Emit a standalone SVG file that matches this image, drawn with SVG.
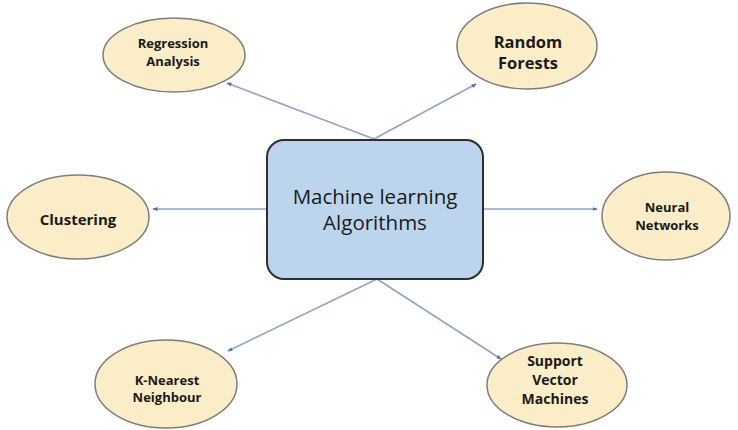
<svg xmlns="http://www.w3.org/2000/svg" width="738" height="430" viewBox="0 0 738 430">
<style>
.leaf ellipse{fill:#FBEDC8;stroke:#7d7d7d;stroke-width:1.5}
.leaf text{font-family:"Open Sans","Liberation Sans",sans-serif;font-weight:bold;fill:#1a1a1a;text-anchor:middle}
.conn line{stroke:#8FA5C2;stroke-width:1.6;marker-end:url(#ah)}
.hub rect{fill:#BDD5EC;stroke:#2e2e2e;stroke-width:2}
.hub text{font-family:"Open Sans","Liberation Sans",sans-serif;font-size:20.5px;fill:#1a1a1a;text-anchor:middle}
</style>
<defs>
<marker id="ah" viewBox="0 0 10 10" refX="9" refY="5" markerWidth="5" markerHeight="5" orient="auto" markerUnits="userSpaceOnUse">
<path d="M0,1 L10,5 L0,9 Z" fill="#4F6F9A"/>
</marker>
</defs>
<rect width="738" height="430" fill="#ffffff"/>
<g id="connectors" class="conn">
<line x1="374" y1="139" x2="227" y2="83"/>
<line x1="374" y1="139" x2="476" y2="84"/>
<line x1="267" y1="209" x2="153" y2="209"/>
<line x1="483" y1="209" x2="597" y2="209"/>
<line x1="377" y1="279" x2="228" y2="351"/>
<line x1="377" y1="279" x2="501" y2="359"/>
</g>
<g id="hub" class="hub">
<rect x="267" y="140" width="216" height="139" rx="17" ry="17"/>
<text x="375" y="204">Machine learning</text>
<text x="375" y="230">Algorithms</text>
</g>
<g id="regression" class="leaf">
<ellipse cx="174" cy="55" rx="71" ry="37"/>
<text x="173" y="48" font-size="13">Regression</text>
<text x="173" y="66" font-size="13">Analysis</text>
</g>
<g id="random-forests" class="leaf">
<ellipse cx="527" cy="46" rx="70" ry="43"/>
<text x="528" y="48" font-size="16.5">Random</text>
<text x="528" y="69" font-size="16.5">Forests</text>
</g>
<g id="clustering" class="leaf">
<ellipse cx="78" cy="217" rx="71" ry="42"/>
<text x="78" y="225" font-size="15">Clustering</text>
</g>
<g id="neural-networks" class="leaf">
<ellipse cx="666" cy="216" rx="64" ry="44"/>
<text x="667" y="212" font-size="13">Neural</text>
<text x="667" y="230" font-size="13">Networks</text>
</g>
<g id="k-nearest" class="leaf">
<ellipse cx="166" cy="384" rx="71" ry="44"/>
<text x="167" y="385" font-size="13">K-Nearest</text>
<text x="167" y="402" font-size="13">Neighbour</text>
</g>
<g id="svm" class="leaf">
<ellipse cx="557" cy="385" rx="70" ry="42"/>
<text x="555" y="366" font-size="14">Support</text>
<text x="555" y="385" font-size="14">Vector</text>
<text x="555" y="404" font-size="14">Machines</text>
</g>
</svg>
